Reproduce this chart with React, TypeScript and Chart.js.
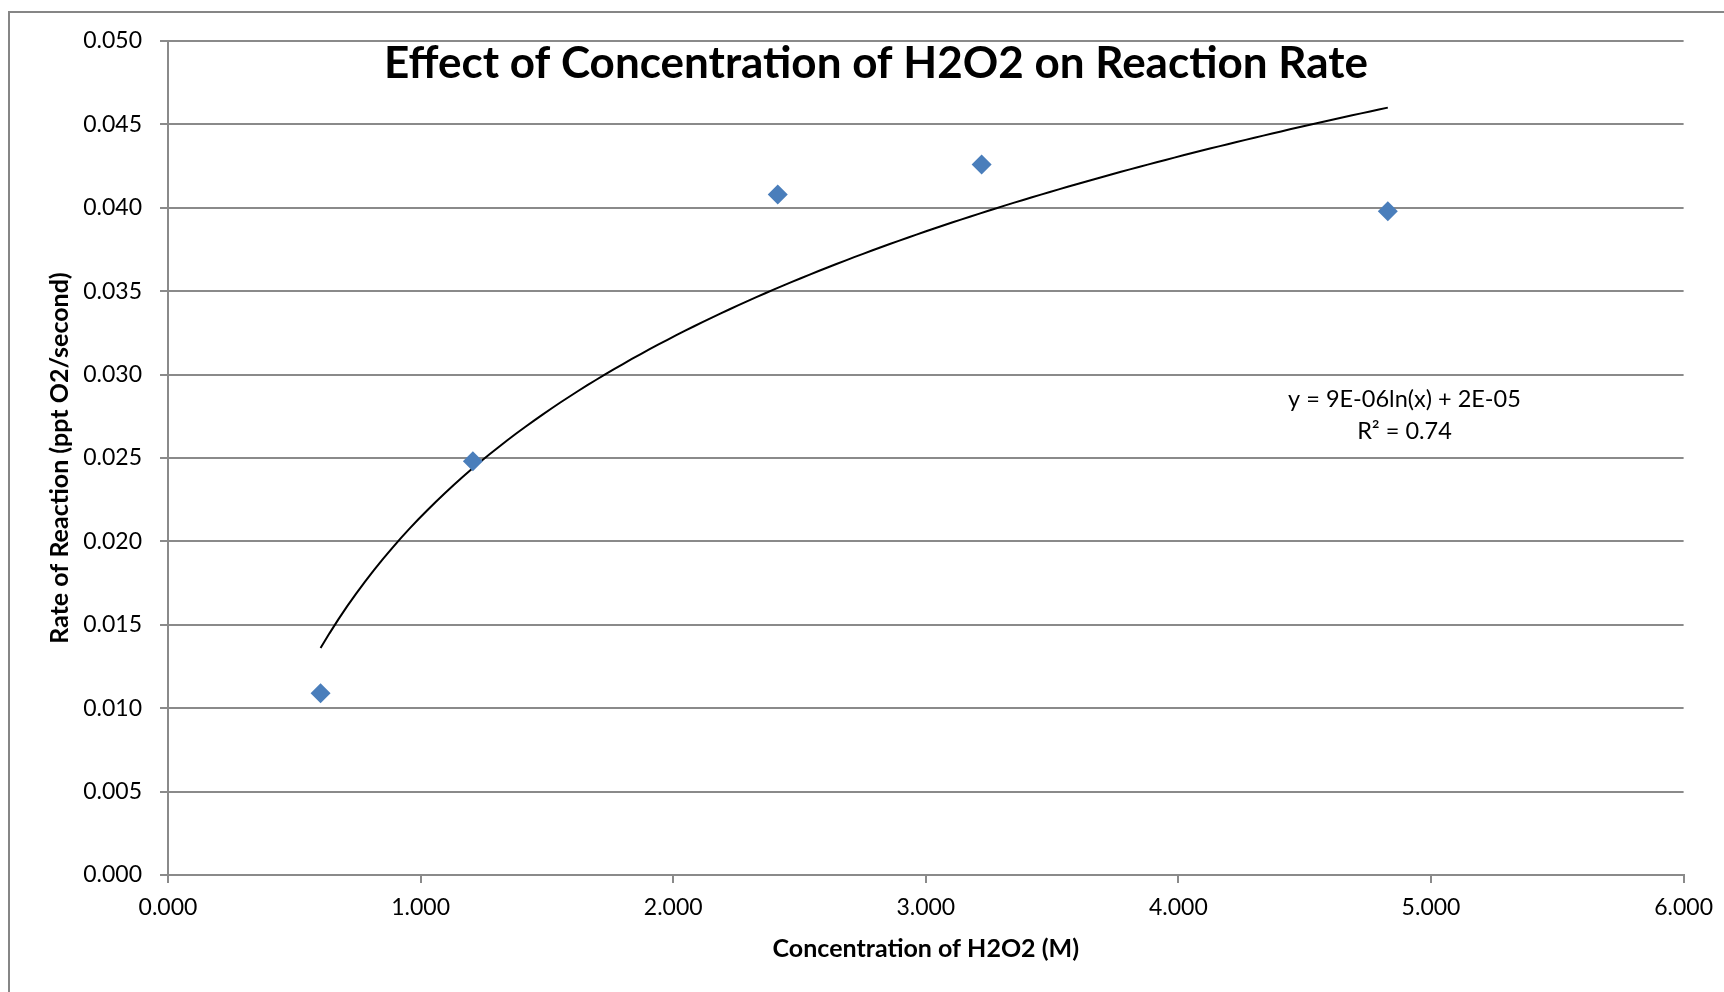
import React, { useEffect, useRef } from "react";
import { Chart, registerables } from "chart.js";

Chart.register(...registerables);

// ---------- data ----------
const chartTitle = "Effect of Concentration of H2O2 on Reaction Rate";
const xAxisTitle = "Concentration of H2O2 (M)";
const yAxisTitle = "Rate of Reaction (ppt O2/second)";
const concentrations = [0.604, 1.207, 2.414, 3.221, 4.829];
const rates = [0.0109, 0.0248, 0.0408, 0.0426, 0.0398];
const trendLabel = ["y = 9E-06ln(x) + 2E-05", "R\u00B2 = 0.74"];

const FONT = "Lato, 'Liberation Sans', sans-serif";
const GRID = "#8a8a8a";

// least-squares logarithmic fit (as a spreadsheet trendline does)
function logFit(xs: number[], ys: number[]) {
  const L = xs.map((v) => Math.log(v));
  const n = xs.length;
  const ml = L.reduce((a, b) => a + b, 0) / n;
  const my = ys.reduce((a, b) => a + b, 0) / n;
  let sxy = 0;
  let sxx = 0;
  for (let i = 0; i < n; i++) {
    sxy += (L[i] - ml) * (ys[i] - my);
    sxx += (L[i] - ml) * (L[i] - ml);
  }
  const a = sxy / sxx;
  return { a, b: my - a * ml };
}

function trendPoints() {
  const { a, b } = logFit(concentrations, rates);
  const x0 = Math.min(...concentrations);
  const x1 = Math.max(...concentrations);
  const pts: { x: number; y: number }[] = [];
  const steps = 120;
  for (let i = 0; i <= steps; i++) {
    const x = x0 + ((x1 - x0) * i) / steps;
    pts.push({ x, y: a * Math.log(x) + b });
  }
  return pts;
}

const decorPlugin = {
  id: "decor",
  beforeDraw(chart: any) {
    const ctx = chart.ctx;
    ctx.save();
    ctx.fillStyle = "#ffffff";
    ctx.fillRect(0, 0, chart.width, chart.height);
    ctx.strokeStyle = "#868686";
    ctx.lineWidth = 2;
    ctx.beginPath();
    ctx.moveTo(9, chart.height);
    ctx.lineTo(9, 12);
    ctx.lineTo(chart.width, 12);
    ctx.stroke();
    ctx.restore();
  },
  afterDraw(chart: any) {
    const ctx = chart.ctx;
    const xs = chart.scales.x;
    const ys = chart.scales.y;
    ctx.save();
    ctx.fillStyle = "#000000";
    ctx.textAlign = "center";
    ctx.textBaseline = "alphabetic";
    ctx.font = `bold 44px ${FONT}`;
    ctx.fillText(chartTitle, 876, 78);

    ctx.font = `23.5px ${FONT}`;
    ctx.textBaseline = "middle";
    const ax = xs.getPixelForValue(4.895);
    ctx.fillText(trendLabel[0], ax, ys.getPixelForValue(0.02854));
    ctx.fillText(trendLabel[1], ax, ys.getPixelForValue(0.02662));
    ctx.restore();
  },
};

export default function App() {
  const ref = useRef<HTMLCanvasElement | null>(null);

  useEffect(() => {
    if (!ref.current) return;
    const chart = new Chart(ref.current, {
      type: "scatter",
      data: {
        datasets: [
          {
            label: "Rate",
            data: concentrations.map((x, i) => ({ x, y: rates[i] })),
            pointStyle: "rectRot",
            pointRadius: 10,
            pointHoverRadius: 10,
            backgroundColor: "#4a7ebb",
            borderColor: "#4a7ebb",
            borderWidth: 0,
            showLine: false,
            order: 1,
          },
          {
            label: "Trend",
            data: trendPoints(),
            showLine: true,
            pointRadius: 0,
            borderColor: "#000000",
            borderWidth: 2,
            tension: 0,
            fill: false,
            order: 2,
          },
        ],
      },
      options: {
        responsive: false,
        animation: false,
        devicePixelRatio: 1,
        layout: { padding: { left: 0, top: 41, right: 40, bottom: 0 } },
        plugins: {
          legend: { display: false },
          tooltip: { enabled: false },
          title: { display: false },
        },
        scales: {
          x: {
            type: "linear",
            min: 0,
            max: 6,
            afterFit: (s: any) => {
              s.height = 117;
            },
            ticks: {
              stepSize: 1,
              maxRotation: 0,
              padding: 11,
              color: "#000",
              font: { family: FONT, size: 23 },
              callback: (v: any) => Number(v).toFixed(3),
            },
            grid: {
              drawOnChartArea: false,
              drawTicks: true,
              tickLength: 8,
              tickColor: GRID,
              lineWidth: 2,
              color: GRID,
            },
            border: { display: true, color: GRID, width: 2 },
            title: {
              display: true,
              text: xAxisTitle,
              color: "#000",
              font: { family: FONT, size: 25, weight: "bold" },
              padding: { top: 0, bottom: 28 },
            },
          },
          y: {
            type: "linear",
            min: 0,
            max: 0.05,
            afterFit: (s: any) => {
              s.width = 168;
            },
            ticks: {
              stepSize: 0.005,
              padding: 18,
              color: "#000",
              font: { family: FONT, size: 23 },
              callback: (v: any) => Number(v).toFixed(3),
            },
            grid: {
              drawOnChartArea: true,
              drawTicks: true,
              tickLength: 8,
              tickColor: GRID,
              lineWidth: 2,
              color: GRID,
            },
            border: { display: true, color: GRID, width: 2 },
            title: {
              display: true,
              text: yAxisTitle,
              color: "#000",
              font: { family: FONT, size: 25, weight: "bold" },
              padding: { top: 45, bottom: 0 },
            },
          },
        },
      },
      plugins: [decorPlugin],
    });
    return () => chart.destroy();
  }, []);

  return (
    <div style={{ position: "fixed", left: 0, top: 0, width: 1724, height: 992, background: "#fff" }}>
      <canvas ref={ref} width={1724} height={992} style={{ width: 1724, height: 992, display: "block" }} />
    </div>
  );
}
